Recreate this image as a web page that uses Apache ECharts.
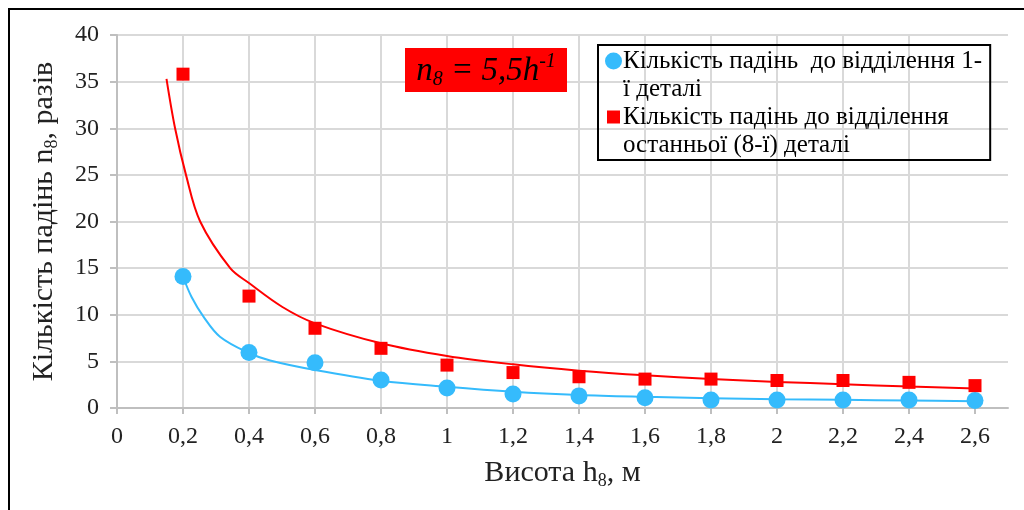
<!DOCTYPE html>
<html>
<head>
<meta charset="utf-8">
<script src="https://cdn.jsdelivr.net/npm/echarts@6/dist/echarts.min.js"></script>
<style>html,body{margin:0;padding:0;background:#fff}#c{width:1024px;height:510px}</style>
</head>
<body>
<div id="c"></div>
<script>
// ---- data ----
const heights = [0.2, 0.4, 0.6, 0.8, 1.0, 1.2, 1.4, 1.6, 1.8, 2.0, 2.2, 2.4, 2.6];
const dropsFirst = [14.1, 5.95, 4.85, 3.0, 2.15, 1.5, 1.3, 1.1, 0.85, 0.85, 0.85, 0.85, 0.8];
const dropsLast = [35.8, 12.0, 8.55, 6.4, 4.6, 3.8, 3.35, 3.1, 3.1, 2.95, 2.95, 2.75, 2.4];
// trend lines
const trendLastX = [0.15, 0.176, 0.209, 0.252, 0.343, 0.4, 0.5, 0.6, 0.8, 1.0, 1.2, 1.4, 1.6, 1.8, 2.0, 2.2, 2.4, 2.6];
const trendLastY = [35.3, 30, 25, 20, 15, 13.4, 10.86, 9.08, 6.94, 5.58, 4.68, 4.0, 3.5, 3.12, 2.8, 2.55, 2.3, 2.1];
const trendFirstX = [0.2, 0.226, 0.262, 0.312, 0.4, 0.464, 0.6, 0.8, 1.0, 1.2, 1.4, 1.6, 1.8, 2.0, 2.2, 2.4, 2.6];
const trendFirstY = [14.1, 11.9, 9.8, 7.65, 5.9, 5.1, 4.08, 2.93, 2.28, 1.75, 1.4, 1.2, 1.05, 0.95, 0.88, 0.8, 0.73];
const xTicks = [0, 0.2, 0.4, 0.6, 0.8, 1.0, 1.2, 1.4, 1.6, 1.8, 2.0, 2.2, 2.4, 2.6];
const nameFirst = 'Кількість падінь  до відділення 1-ї деталі';
const nameLast = 'Кількість падінь до відділення останньої (8-ї) деталі';

const FONT = "'Liberation Serif', 'Times New Roman', serif";
const BLUE = '#35bbfc';
const RED = '#ff0000';
const pair = (xs, ys) => xs.map((x, i) => [x, ys[i]]);
const comma = v => String(Math.round(v * 10) / 10).replace('.', ',');

const chart = echarts.init(document.getElementById('c'), null, {renderer: 'canvas'});
chart.setOption({
  backgroundColor: '#fff',
  animation: false,
  grid: {left: 117, top: 35, right: 16, bottom: 102},
  graphic: [
    {type: 'rect', shape: {x: 9, y: 9, width: 1100, height: 600}, style: {fill: 'none', stroke: '#000', lineWidth: 2}, silent: true, z: 100},
    {type: 'rect', shape: {x: 405, y: 48, width: 162, height: 44}, style: {fill: RED}, z: 50},
    {type: 'text', x: 486, y: 71, z: 51, style: {
      text: '{i|n}{s|8}{i| = 5,5h}{p|-1}', align: 'center', verticalAlign: 'middle',
      rich: {
        i: {fontFamily: FONT, fontStyle: 'italic', fontSize: 33, fill: '#000', lineHeight: 38},
        s: {fontFamily: FONT, fontStyle: 'italic', fontSize: 20, fill: '#000', lineHeight: 34, verticalAlign: 'bottom'},
        p: {fontFamily: FONT, fontStyle: 'italic', fontSize: 20, fill: '#000', lineHeight: 38, verticalAlign: 'top'}
      }
    }}
  ],
  legend: {
    orient: 'vertical', left: 598, top: 45,
    data: [nameFirst, nameLast],
    icon: 'none', itemWidth: 0, itemHeight: 0, itemGap: 0,
    borderColor: '#000', borderWidth: 2, padding: [2, 8, 1, 2],
    selectedMode: false,
    formatter: function (n) {
      if (n === nameFirst) return '{dot|}{g1|}{t|Кількість падінь  до відділення 1-}\n{sp|}{t|ї деталі}';
      return '{g2|}{sq|}{g3|}{t|Кількість падінь до відділення}\n{sp|}{t|останньої (8-ї) деталі}';
    },
    textStyle: {
      fontFamily: FONT, fontSize: 25, color: '#000', lineHeight: 28,
      rich: {
        t: {fontFamily: FONT, fontSize: 25, color: '#000', lineHeight: 28},
        dot: {width: 17, height: 17, borderRadius: 8.5, backgroundColor: BLUE},
        g1: {width: 1}, g2: {width: 2}, g3: {width: 3},
        sq: {width: 13, height: 13, backgroundColor: RED},
        sp: {width: 18}
      }
    }
  },
  xAxis: {
    type: 'value', min: 0, max: 2.7, interval: 0.2,
    name: '{n|Висота h}{s|8}{n|, м}', nameLocation: 'middle', nameGap: 48,
    nameTextStyle: {rich: {
      n: {fontFamily: FONT, fontSize: 30, color: '#222', lineHeight: 34},
      s: {fontFamily: FONT, fontSize: 18, color: '#222', lineHeight: 32, verticalAlign: 'bottom'}
    }},
    axisLine: {show: true, onZero: false, lineStyle: {color: '#bfbfbf', width: 2}},
    axisTick: {show: true, length: 6, customValues: xTicks, lineStyle: {color: '#bfbfbf', width: 2}},
    axisLabel: {customValues: xTicks, margin: 17, fontFamily: FONT, fontSize: 24, color: '#222', formatter: comma},
    splitLine: {show: true, showMaxLine: false, lineStyle: {color: '#d9d9d9', width: 2}}
  },
  yAxis: {
    type: 'value', min: 0, max: 40, interval: 5,
    name: '{n|Кількість падінь n}{s|8}{n|, разів}', nameLocation: 'middle', nameGap: 56, nameRotate: 90,
    nameTextStyle: {rich: {
      n: {fontFamily: FONT, fontSize: 30, color: '#222', lineHeight: 34},
      s: {fontFamily: FONT, fontSize: 18, color: '#222', lineHeight: 32, verticalAlign: 'bottom'}
    }},
    axisLine: {show: true, lineStyle: {color: '#bfbfbf', width: 2}},
    axisTick: {show: true, length: 7, lineStyle: {color: '#bfbfbf', width: 2}},
    axisLabel: {margin: 18, fontFamily: FONT, fontSize: 24, color: '#222'},
    splitLine: {show: true, lineStyle: {color: '#d9d9d9', width: 2}}
  },
  series: [
    {type: 'line', name: 'trendLast', data: pair(trendLastX, trendLastY), smooth: 0.35, showSymbol: false, symbol: 'none', silent: true,
     lineStyle: {color: RED, width: 2}, z: 2},
    {type: 'line', name: 'trendFirst', data: pair(trendFirstX, trendFirstY), smooth: 0.35, showSymbol: false, symbol: 'none', silent: true,
     lineStyle: {color: BLUE, width: 2}, z: 2},
    {type: 'scatter', name: nameFirst, data: pair(heights, dropsFirst), symbol: 'circle', symbolSize: 17, itemStyle: {color: BLUE, opacity: 1}, z: 3},
    {type: 'scatter', name: nameLast, data: pair(heights, dropsLast), symbol: 'rect', symbolSize: 13, itemStyle: {color: RED, opacity: 1}, z: 4}
  ]
});
</script>
</body>
</html>
